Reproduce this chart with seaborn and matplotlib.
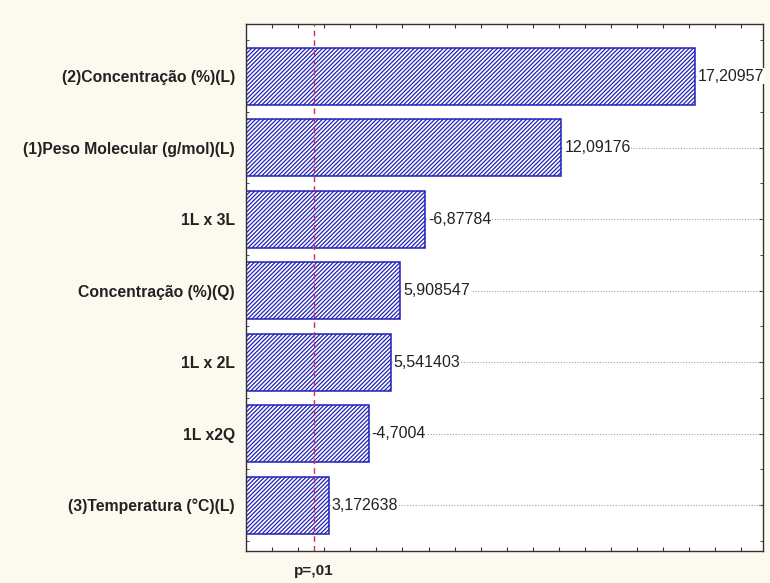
import numpy as np
import pandas as pd
import matplotlib
matplotlib.use("Agg")
import matplotlib.pyplot as plt
import seaborn as sns

effects = ["(2)Concentração (%)(L)", "(1)Peso Molecular (g/mol)(L)", "1L x 3L",
           "Concentração (%)(Q)", "1L x 2L", "1L x2Q", "(3)Temperatura (°C)(L)"]
t_values = [17.20957, 12.09176, -6.87784, 5.908547, 5.541403, -4.7004, 3.172638]
value_labels = ["17,20957", "12,09176", "-6,87784", "5,908547", "5,541403", "-4,7004", "3,172638"]
p_limit = 2.61
p_text = "p=,01"

df = pd.DataFrame({"effect": effects, "t": np.abs(t_values)})

sns.set_style("white")
plt.rcParams["font.family"] = ["Liberation Sans", "DejaVu Sans"]
plt.rcParams["hatch.linewidth"] = 0.9
plt.rcParams["hatch.color"] = "#2e2e9a"

bg = "#fcf9ee"
fig = plt.figure(figsize=(7.7, 5.83), dpi=100, facecolor=bg)
ax = fig.add_axes([0.3195, 0.055, 0.6715, 0.904])
ax.set_facecolor("white")

sns.barplot(data=df, x="t", y="effect", orient="h", color="white", width=0.8,
            edgecolor="#2020b8", linewidth=1.1, ax=ax)
for p in ax.patches:
    p.set_hatch("////////")
    p.set_zorder(2)

ax.set_xlim(0, 19.83)
ax.set_ylim(6.64, -0.73)

for i, (v, lab) in enumerate(zip(df["t"], value_labels)):
    ax.hlines(i, v, 19.83, colors="#a0a0a0", linestyles=(0, (1, 1.5)), linewidth=0.8, zorder=1)
    ax.text(v + 0.12, i, lab, va="center", ha="left", fontsize=11.5, color="#222222",
            bbox=dict(facecolor="white", edgecolor="none", pad=0.5), zorder=3, clip_on=False)

ax.axvline(p_limit, color="#cc2c55", linestyle=(0, (4, 3)), linewidth=1.0, zorder=4)

ax.set_xticks(np.arange(1, 20))
ax.set_xticklabels([])
ax.tick_params(axis="x", which="both", direction="in", top=True, bottom=True, length=3, color="#333333")
ax.set_yticks(range(len(effects)))
ax.set_yticklabels(effects, fontsize=11.3, fontweight="bold", color="#222222")
ax.set_yticks(np.arange(-0.5, 6.6, 0.5), minor=True)
ax.tick_params(axis="y", which="major", direction="in", left=True, right=True, length=3, pad=8)
ax.tick_params(axis="y", which="minor", direction="in", left=True, right=True, length=2)
ax.set_xlabel("")
ax.set_ylabel("")
for s in ax.spines.values():
    s.set_color("#333333")
    s.set_linewidth(1.0)

ax.text(p_limit, -0.025, p_text, transform=ax.get_xaxis_transform(), ha="center", va="top",
        fontsize=11, fontweight="bold", color="#222222")

fig.savefig("out.png", dpi=100, facecolor=bg)
